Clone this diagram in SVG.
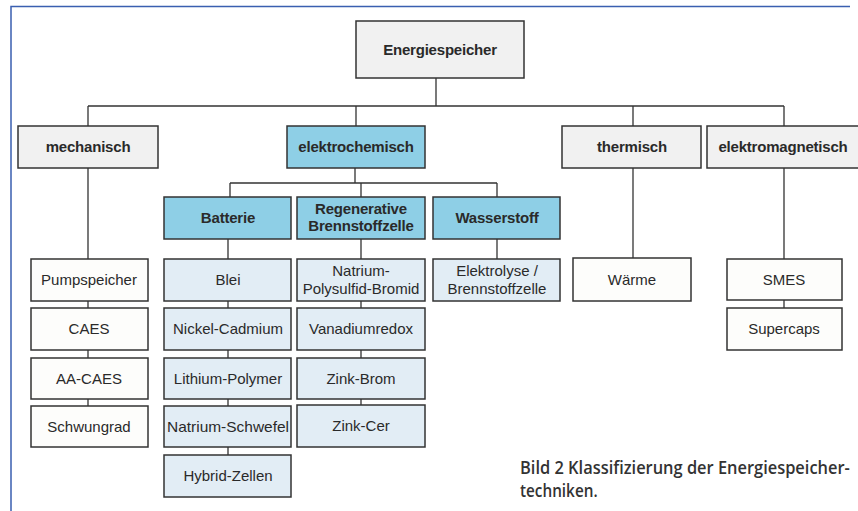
<svg xmlns="http://www.w3.org/2000/svg" width="858" height="511" viewBox="0 0 858 511">
<style>
.b{stroke:#333;stroke-width:1.5}
.g{fill:#f1f1f1}
.c{fill:#8ecfe6}
.l{fill:#e2edf5}
.w{fill:#fdfdfb}
text{font-family:"Liberation Sans",Arial,sans-serif;font-size:15px;fill:#2a2a2a;text-anchor:middle}
.h{font-weight:bold;font-size:15px;letter-spacing:-0.2px}
.cap{font-family:"Open Sans","DejaVu Sans",sans-serif;font-weight:600;font-size:18px;fill:#333;text-anchor:start}
#conn path{stroke:#333;stroke-width:1.3;fill:none}
</style>
<rect width="858" height="511" fill="#ffffff"/>
<path d="M11,511 V6.5 H850" fill="none" stroke="#3a5fb0" stroke-width="1.5"/>
<g id="conn">
<path d="M436,78 V106 M88,106 H784 M88,106 V126 M356,106 V126 M633,106 V126 M784,106 V126"/>
<path d="M88,168 V259 M88,301 V308 M88,350 V358 M88,399 V406"/>
<path d="M355,168 V183 M230,183 H497 M230,183 V197 M361,183 V197 M497,183 V197"/>
<path d="M228,239 V259 M228,301 V308 M228,350 V358 M228,399 V406 M228,447 V455"/>
<path d="M361,239 V259 M361,301 V308 M361,350 V358 M361,399 V405"/>
<path d="M497,239 V259"/>
<path d="M633,168 V258"/>
<path d="M784,168 V259 M784,300 V308"/>
</g>
<g id="n-root"><rect class="b g" x="356" y="21" width="168" height="57"/><text class="h" x="440" y="55">Energiespeicher</text></g>
<g id="n-mech"><rect class="b g" x="18" y="126" width="140" height="42"/><text class="h" x="88" y="152">mechanisch</text></g>
<g id="n-elch"><rect class="b c" x="287" y="126" width="138" height="42"/><text class="h" x="356" y="152">elektrochemisch</text></g>
<g id="n-therm"><rect class="b g" x="562" y="126" width="139" height="42"/><text class="h" x="632" y="152">thermisch</text></g>
<g id="n-elmag"><rect class="b g" x="707" y="126" width="155" height="42"/><text class="h" x="783" y="152">elektromagnetisch</text></g>
<g id="n-batt"><rect class="b c" x="164" y="197" width="127" height="42"/><text class="h" x="228" y="223">Batterie</text></g>
<g id="n-regen"><rect class="b c" x="297" y="197" width="128" height="42"/><text class="h" x="361" y="214">Regenerative</text><text class="h" x="361" y="231">Brennstoffzelle</text></g>
<g id="n-wass"><rect class="b c" x="433" y="197" width="127" height="42"/><text class="h" x="497" y="223">Wasserstoff</text></g>
<g id="n-pump"><rect class="b w" x="31" y="259" width="117" height="42"/><text x="89" y="285">Pumpspeicher</text></g>
<g id="n-caes"><rect class="b w" x="31" y="308" width="117" height="42"/><text x="89" y="334">CAES</text></g>
<g id="n-aacaes"><rect class="b w" x="31" y="358" width="117" height="41"/><text x="89" y="384">AA-CAES</text></g>
<g id="n-schw"><rect class="b w" x="31" y="406" width="117" height="41"/><text x="89" y="432">Schwungrad</text></g>
<g id="n-blei"><rect class="b l" x="164" y="259" width="127" height="42"/><text x="228" y="285">Blei</text></g>
<g id="n-nicd"><rect class="b l" x="164" y="308" width="127" height="42"/><text x="228" y="334">Nickel-Cadmium</text></g>
<g id="n-lipo"><rect class="b l" x="164" y="358" width="127" height="41"/><text x="228" y="384">Lithium-Polymer</text></g>
<g id="n-nas"><rect class="b l" x="164" y="406" width="127" height="41"/><text x="228" y="432" textLength="122" lengthAdjust="spacingAndGlyphs">Natrium-Schwefel</text></g>
<g id="n-hyb"><rect class="b l" x="164" y="455" width="127" height="42"/><text x="228" y="481">Hybrid-Zellen</text></g>
<g id="n-npb"><rect class="b l" x="297" y="259" width="128" height="42"/><text x="361" y="276">Natrium-</text><text x="361" y="294">Polysulfid-Bromid</text></g>
<g id="n-vana"><rect class="b l" x="297" y="308" width="128" height="42"/><text x="361" y="334">Vanadiumredox</text></g>
<g id="n-znbr"><rect class="b l" x="297" y="358" width="128" height="41"/><text x="361" y="384">Zink-Brom</text></g>
<g id="n-znce"><rect class="b l" x="297" y="405" width="128" height="42"/><text x="361" y="431">Zink-Cer</text></g>
<g id="n-elek"><rect class="b l" x="433" y="259" width="127" height="42"/><text x="497" y="276">Elektrolyse /</text><text x="497" y="294">Brennstoffzelle</text></g>
<g id="n-waerme"><rect class="b w" x="573" y="258" width="118" height="43"/><text x="632" y="285">Wärme</text></g>
<g id="n-smes"><rect class="b w" x="727" y="259" width="115" height="41"/><text x="784" y="285">SMES</text></g>
<g id="n-sc"><rect class="b w" x="727" y="308" width="115" height="42"/><text x="784" y="334">Supercaps</text></g>
<g id="caption">
<text class="cap" transform="translate(520,474) scale(0.85,1)" textLength="388" lengthAdjust="spacingAndGlyphs">Bild 2  Klassifizierung der Energiespeicher-</text>
<text class="cap" transform="translate(520,497) scale(0.85,1)">techniken.</text>
</g>
</svg>
